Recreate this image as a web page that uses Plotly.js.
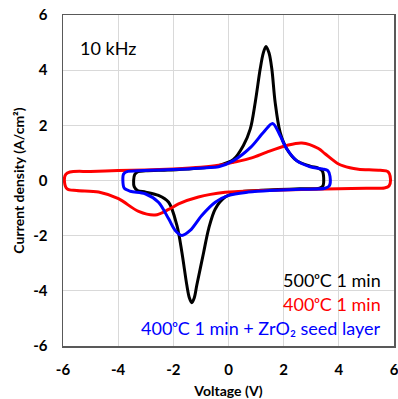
<!DOCTYPE html>
<html>
<head>
<meta charset="utf-8">
<script src="https://cdn.plot.ly/plotly-3.0.1.min.js"></script>
<style>
  html, body { margin: 0; padding: 0; background: #ffffff; }
  #chart { width: 398px; height: 399px; }
</style>
</head>
<body>
<div id="chart"></div>
<script>
// Switching current loops (I-V) at 10 kHz for three anneal conditions.
// Each loop: forward sweep along the upper branch, back along the lower one.

// 500 °C, 1 min
const v500 = [-3.44, -3.40, -3.28, -3.0, -2.2, -1.5, -0.8, -0.36, 0.18, 0.54, 0.79, 0.97, 1.15, 1.26, 1.36, 1.47, 1.57, 1.69, 1.87, 2.11, 2.47, 2.96, 3.25, 3.40, 3.45, 3.42, 3.30, 2.6, 1.8, 1.09, 0.36, -0.12, -0.48, -0.72, -0.90, -1.15, -1.24, -1.33, -1.42, -1.51, -1.69, -1.87, -2.17, -2.54, -3.0, -3.30, -3.42, -3.44];
const j500 = [0.0, 0.22, 0.32, 0.35, 0.38, 0.42, 0.47, 0.54, 0.76, 1.27, 1.87, 2.84, 4.05, 4.62, 4.86, 4.62, 4.05, 2.84, 1.75, 1.15, 0.72, 0.52, 0.45, 0.35, 0.1, -0.2, -0.28, -0.3, -0.33, -0.36, -0.42, -0.6, -1.03, -1.75, -2.6, -3.8, -4.25, -4.43, -4.25, -3.8, -2.6, -1.63, -0.79, -0.54, -0.42, -0.36, -0.22, 0.0];

// 400 °C, 1 min
const v400 = [-5.95, -5.90, -5.75, -5.0, -4.0, -3.0, -2.0, -1.0, -0.36, 0.18, 0.84, 1.39, 2.11, 2.66, 3.26, 3.5, 3.99, 4.4, 4.71, 5.5, 5.78, 5.87, 5.82, 5.65, 5.0, 4.0, 3.0, 2.0, 0.36, -0.12, -1.09, -1.81, -2.17, -2.66, -3.26, -3.99, -4.71, -5.5, -5.85, -5.95];
const j400 = [0.0, 0.22, 0.31, 0.33, 0.36, 0.38, 0.42, 0.48, 0.55, 0.66, 0.82, 1.03, 1.27, 1.36, 1.16, 0.97, 0.6, 0.46, 0.41, 0.37, 0.32, 0.08, -0.2, -0.27, -0.28, -0.3, -0.32, -0.34, -0.4, -0.43, -0.6, -0.85, -1.05, -1.25, -1.12, -0.66, -0.42, -0.36, -0.3, 0.0];

// 400 °C, 1 min + ZrO2 seed layer
const vSeed = [-3.83, -3.80, -3.65, -3.3, -2.5, -1.5, -0.8, -0.36, 0.18, 0.80, 1.27, 1.60, 1.87, 2.11, 2.47, 2.96, 3.4, 3.6, 3.68, 3.65, 3.5, 2.6, 1.5, 0.72, 0.0, -0.48, -0.97, -1.39, -1.69, -1.93, -2.17, -2.54, -3.02, -3.56, -3.78, -3.83];
const jSeed = [0.0, 0.24, 0.33, 0.35, 0.38, 0.42, 0.46, 0.5, 0.72, 1.2, 1.75, 2.07, 1.63, 1.15, 0.72, 0.5, 0.42, 0.36, 0.15, -0.2, -0.28, -0.32, -0.36, -0.42, -0.54, -0.79, -1.27, -1.81, -1.99, -1.81, -1.39, -0.79, -0.48, -0.39, -0.28, 0.0];

const seriesNames = ['500ᵒC 1 min', '400ᵒC 1 min', '400ᵒC 1 min + ZrO₂ seed layer'];
const seriesColors = ['#000000', '#ff0000', '#0000ff'];
const tickVals = [-6, -4, -2, 0, 2, 4, 6];
const freqLabel = '10 kHz';

const FONT = 'Lato, "Open Sans", "DejaVu Sans", sans-serif';

function loop(v, j, i) {
  return {
    x: v, y: j, type: 'scatter', mode: 'lines', name: seriesNames[i],
    line: { color: seriesColors[i], width: 3, shape: 'spline', smoothing: 0.9 },
    hoverinfo: 'skip', showlegend: false
  };
}

const data = [loop(v500, j500, 0), loop(v400, j400, 1), loop(vSeed, jSeed, 2)];

const axisCommon = {
  range: [-6, 6], tickvals: tickVals, ticktext: tickVals.map(String),
  showgrid: true, gridcolor: '#d9d9d9', gridwidth: 1,
  zeroline: false, showline: true, mirror: true, linecolor: '#595959', linewidth: 1.5,
  ticks: '', ticklabeloverflow: 'allow',
  tickfont: { family: FONT, size: 15, color: '#000', weight: 'bold' },
  fixedrange: true
};

const legendText = seriesNames.map((t, i) => ({
  x: 5.6, y: [-3.62, -4.49, -5.36][i], xref: 'x', yref: 'y',
  text: t, showarrow: false, xanchor: 'right', yanchor: 'middle',
  font: { family: FONT, size: 18, color: seriesColors[i] }
}));

const layout = {
  width: 398, height: 399,
  margin: { l: 63, r: 4, t: 15, b: 53 },
  paper_bgcolor: '#ffffff', plot_bgcolor: '#ffffff',
  showlegend: false,
  xaxis: Object.assign({}, axisCommon, {
    ticklabelstandoff: 9,
    title: { text: 'Voltage (V)', standoff: 12, font: { family: FONT, size: 14, color: '#000', weight: 'bold' } }
  }),
  yaxis: Object.assign({}, axisCommon, {
    ticklabelstandoff: 11,
    title: { text: 'Current density (A/cm²)', standoff: 5, font: { family: FONT, size: 14, color: '#000', weight: 'bold' } }
  }),
  annotations: [{
    x: -5.45, y: 4.82, xref: 'x', yref: 'y', text: freqLabel, showarrow: false,
    xanchor: 'left', yanchor: 'middle', font: { family: FONT, size: 18, color: '#000' }
  }].concat(legendText)
};

Plotly.newPlot('chart', data, layout, { displayModeBar: false, staticPlot: true });
</script>
</body>
</html>
